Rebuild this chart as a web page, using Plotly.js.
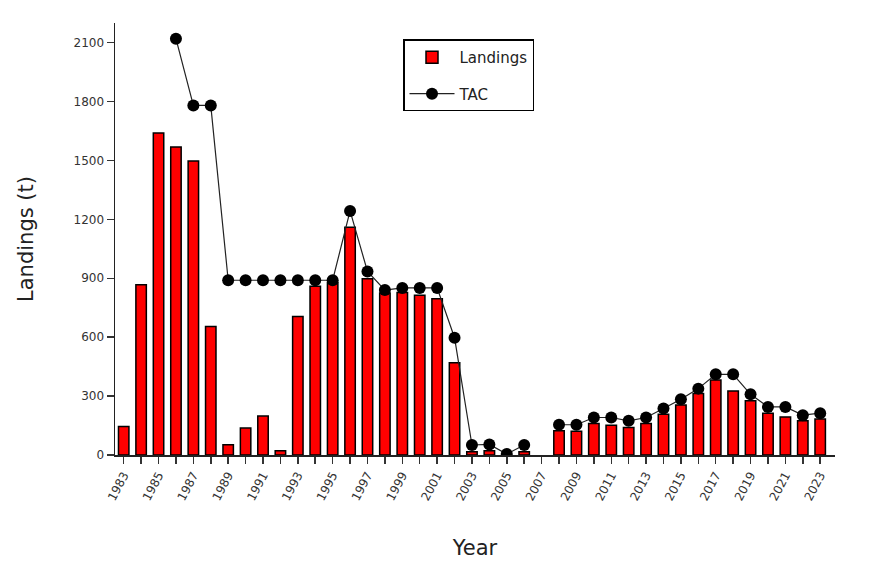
<!DOCTYPE html>
<html>
<head>
<meta charset="utf-8">
<script src="https://cdn.plot.ly/plotly-3.0.1.min.js"></script>
<style>html,body{margin:0;padding:0;background:#fff;}#chart{width:874px;height:565px;}</style>
</head>
<body>
<div id="chart"></div>
<script>
const years = [1983,1984,1985,1986,1987,1988,1989,1990,1991,1992,1993,1994,1995,1996,1997,1998,1999,2000,2001,2002,2003,2004,2005,2006,2007,2008,2009,2010,2011,2012,2013,2014,2015,2016,2017,2018,2019,2020,2021,2022,2023];
const landings = [145,867,1640,1568,1497,654,52,137,198,22,705,859,878,1160,898,825,827,813,796,470,17,22,0,17,null,123,121,161,152,140,161,208,255,313,382,326,276,213,194,174,183];
const tac = [null,null,null,2120,1780,1780,890,890,890,890,890,890,890,1243,935,840,851,851,851,597,51,54,5,51,null,154,154,191,191,174,191,237,284,338,411,411,309,245,245,203,213];
const yTicks = [0,300,600,900,1200,1500,1800,2100];

const font = "DejaVu Sans, Liberation Sans, sans-serif";
const data = [
  {
    type: 'bar', name: 'Landings', legendgroup: 'a', x: years, y: landings, width: 0.6,
    marker: {color: '#ff0000', line: {color: '#000', width: 1.5}}
  },
  {
    type: 'scatter', mode: 'lines+markers', name: 'TAC', legendgroup: 'b', x: years, y: tac,
    connectgaps: false,
    line: {color: '#222', width: 1.2},
    marker: {color: '#000', size: 12, symbol: 'circle'}
  }
];
const layout = {
  width: 874, height: 565,
  margin: {l: 115, r: 39, t: 23, b: 110},
  paper_bgcolor: '#fff', plot_bgcolor: '#fff',
  font: {family: font, color: '#222', size: 12},
  showlegend: true,
  legend: {
    x: 0.4, y: 0.962, xanchor: 'left', yanchor: 'top',
    bordercolor: '#000', borderwidth: 1.5, bgcolor: '#fff',
    font: {family: font, size: 15, color: '#222'},
    tracegroupgap: 14, itemwidth: 45, entrywidth: 150
  },
  xaxis: {
    range: [1982.5, 2023.85],
    tickmode: 'linear', tick0: 1983, dtick: 2,
    ticks: 'outside', ticklen: 7, tickwidth: 1.5, tickcolor: '#333',
    minor: {dtick: 1, tick0: 1983, ticks: 'outside', ticklen: 7, tickwidth: 1.5, tickcolor: '#333', showgrid: false},
    tickangle: -62,
    tickfont: {family: font, size: 12, color: '#333'},
    showline: true, linecolor: '#222', linewidth: 1.5,
    showgrid: false, zeroline: false,
    title: {text: 'Year', font: {family: font, size: 21, color: '#222'}, standoff: 38}
  },
  yaxis: {
    range: [0, 2200],
    tickmode: 'array', tickvals: yTicks, ticktext: yTicks.map(String),
    ticks: 'outside', ticklen: 7, tickwidth: 1.5, tickcolor: '#333',
    tickfont: {family: font, size: 12, color: '#333'},
    showline: true, linecolor: '#222', linewidth: 1.5,
    showgrid: false, zeroline: false,
    title: {text: 'Landings (t)', font: {family: font, size: 21, color: '#222'}, standoff: 34}
  }
};
Plotly.newPlot('chart', data, layout, {displayModeBar: false, staticPlot: true});
</script>
</body>
</html>
